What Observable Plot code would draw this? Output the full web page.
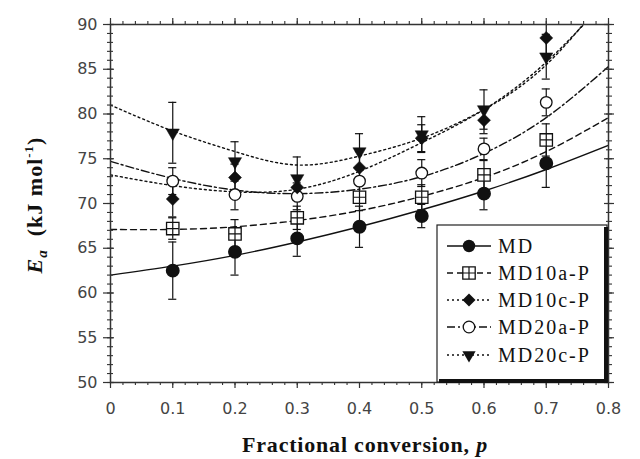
<!DOCTYPE html>
<html><head><meta charset="utf-8">
<script src="https://cdn.jsdelivr.net/npm/d3@7"></script>
<script src="https://cdn.jsdelivr.net/npm/@observablehq/plot@0.6"></script>
<style>body{margin:0;background:#fff}#wrap{position:relative;width:640px;height:459px;overflow:hidden}</style>
</head><body><div id="wrap"></div>
<script>
// ---- data ----
const conversion = [0.1, 0.2, 0.3, 0.4, 0.5, 0.6, 0.7];
const seriesNames = ["MD", "MD10a-P", "MD10c-P", "MD20a-P", "MD20c-P"];

const MD      = [62.5, 64.6, 66.1, 67.4, 68.6, 71.1, 74.5];
const MD10aP  = [67.2, 66.6, 68.4, 70.7, 70.7, 73.2, 77.1];
const MD10cP  = [70.5, 72.9, 71.8, 74.0, 77.3, 79.3, 88.5];
const MD20aP  = [72.5, 71.0, 70.8, 72.5, 73.4, 76.1, 81.3];
const MD20cP  = [77.9, 74.7, 72.8, 75.8, 77.7, 80.5, 86.4];

const MD_err     = [3.2, 2.6, 2.0, 2.3, 1.3, 1.8, 2.7];
const MD10aP_err = [1.2, 1.6, 1.3, 1.5, 1.4, 1.6, 1.8];
const MD10cP_err = [2.0, 1.5, 1.3, 1.8, 1.5, 1.5, 1.8];
const MD20aP_err = [1.5, 1.7, 1.5, 1.3, 1.5, 1.2, 1.5];
const MD20cP_err = [3.4, 2.2, 2.4, 2.0, 2.0, 2.2, 2.5];

// fitted curves, read at p = 0 ... 0.8
const fitP       = [0, 0.1, 0.2, 0.3, 0.4, 0.5, 0.6, 0.7, 0.8];
const MD_fit     = [62.0, 63.0, 64.2, 65.7, 67.4, 69.3, 71.4, 73.8, 76.5];
const MD10aP_fit = [67.1, 67.1, 67.4, 68.1, 69.2, 70.8, 72.9, 75.8, 79.6];
const MD10cP_fit = [73.2, 72.0, 71.3, 71.6, 73.6, 76.8, 80.5, 85.8, 93.0];
const MD20aP_fit = [74.7, 72.8, 71.5, 71.1, 71.6, 73.0, 75.6, 79.6, 85.3];
const MD20cP_fit = [81.0, 78.1, 75.8, 74.3, 75.3, 77.3, 80.5, 85.5, 93.5];

const xTicks = [0, 0.1, 0.2, 0.3, 0.4, 0.5, 0.6, 0.7, 0.8];
const xTickLabels = ["0", "0.1", "0.2", "0.3", "0.4", "0.5", "0.6", "0.7", "0.8"];
const yTicks = [50, 55, 60, 65, 70, 75, 80, 85, 90];

// ---- build tables ----
const values = [MD, MD10aP, MD10cP, MD20aP, MD20cP];
const errs = [MD_err, MD10aP_err, MD10cP_err, MD20aP_err, MD20cP_err];
const fitsArr = [MD_fit, MD10aP_fit, MD10cP_fit, MD20aP_fit, MD20cP_fit];
const dashes = [null, "6,4", "2,3", "8,3,2,3", "2,3"];

const points = [];
seriesNames.forEach((s, i) => values[i].forEach((v, j) =>
  points.push({series: s, p: conversion[j], E: v, err: errs[i][j]})));
const fits = [];
seriesNames.forEach((s, i) => fitsArr[i].forEach((v, j) =>
  fits.push({series: s, p: fitP[j], E: v})));

const xMinor = d3.range(0, 0.8001, 0.02);
const yMinor = d3.range(50, 90.01, 1);
const capW = 0.0065;
const ink = "#111";
const noText = () => "";

const lineMarks = seriesNames.map((s, i) => Plot.line(fits.filter(d => d.series === s), {
  x: "p", y: "E", curve: "natural", stroke: ink, strokeWidth: 1.4,
  strokeDasharray: dashes[i], clip: true
}));

const sel = s => points.filter(d => d.series === s);

const plot = Plot.plot({
  width: 640, height: 459,
  marginLeft: 110, marginRight: 32, marginTop: 24, marginBottom: 77,
  x: {domain: [0, 0.8]},
  y: {domain: [50, 90]},
  style: {fontFamily: "'DejaVu Sans', sans-serif", fontSize: "16px", color: "#333", background: "#fff"},
  marks: [
    ...lineMarks,
    Plot.ruleX(points, {x: "p", y1: d => d.E - d.err, y2: d => d.E + d.err, stroke: ink, strokeWidth: 1.2, clip: true}),
    Plot.ruleY(points, {y: d => d.E + d.err, x1: d => d.p - capW, x2: d => d.p + capW, stroke: ink, strokeWidth: 1.2, clip: true}),
    Plot.ruleY(points, {y: d => d.E - d.err, x1: d => d.p - capW, x2: d => d.p + capW, stroke: ink, strokeWidth: 1.2, clip: true}),
    // markers
    Plot.dot(sel("MD20a-P"), {x: "p", y: "E", symbol: "circle", r: 5.8, fill: "#fff", stroke: ink, strokeWidth: 1.3}),
    Plot.dot(sel("MD10a-P"), {x: "p", y: "E", symbol: "square", r: 7, fill: "#fff", stroke: ink, strokeWidth: 1.3}),
    Plot.dot(sel("MD10a-P"), {x: "p", y: "E", symbol: "plus", r: 4.0, stroke: ink, strokeWidth: 1.2}),
    Plot.dot(sel("MD10c-P"), {x: "p", y: "E", symbol: "square", r: 5.2, rotate: 45, fill: ink, stroke: ink, strokeWidth: 0.5}),
    Plot.dot(sel("MD20c-P"), {x: "p", y: "E", symbol: "triangle", r: 4.9, rotate: 180, fill: ink, stroke: ink, strokeWidth: 0.5}),
    Plot.dot(sel("MD"), {x: "p", y: "E", symbol: "circle", r: 6.2, fill: ink, stroke: ink}),
    // frame and axes
    Plot.frame({stroke: "#333", strokeWidth: 1.5}),
    Plot.axisX({ticks: xTicks, tickSize: 6, tickPadding: 14, tickFormat: d => xTickLabels[xTicks.indexOf(d)], label: null, strokeWidth: 1.2, fill: "#444"}),
    Plot.axisX({ticks: xMinor, tickSize: 3, tickFormat: noText, label: null, strokeWidth: 1.1}),
    Plot.axisX({anchor: "top", ticks: xTicks, tickSize: 7, tickFormat: noText, label: null, strokeWidth: 1.2}),
    Plot.axisX({anchor: "top", ticks: xMinor, tickSize: 4, tickFormat: noText, label: null, strokeWidth: 1.1}),
    Plot.axisY({ticks: yTicks, tickSize: 7, tickPadding: 6, label: null, strokeWidth: 1.2, fill: "#444"}),
    Plot.axisY({ticks: yTicks, tickSize: -4, tickFormat: noText, label: null, strokeWidth: 1.2}),
    Plot.axisY({ticks: yMinor, tickSize: 3, tickFormat: noText, label: null, strokeWidth: 1.1}),
    Plot.axisY({ticks: yMinor, tickSize: -3, tickFormat: noText, label: null, strokeWidth: 1.1}),
    Plot.axisY({anchor: "right", ticks: yTicks, tickSize: 5, tickFormat: noText, label: null, strokeWidth: 1.2}),
    Plot.axisY({anchor: "right", ticks: yTicks, tickSize: -5, tickFormat: noText, label: null, strokeWidth: 1.2}),
    Plot.axisY({anchor: "right", ticks: yMinor, tickSize: 3, tickFormat: noText, label: null, strokeWidth: 1.1}),
    Plot.axisY({anchor: "right", ticks: yMinor, tickSize: -3, tickFormat: noText, label: null, strokeWidth: 1.1})
  ]
});
document.getElementById("wrap").appendChild(plot);

// ---- titles ----
const svg = d3.select(plot);
const serif = "'Liberation Serif', 'Times New Roman', serif";
const xt = svg.append("text").attr("x", 365).attr("y", 452).attr("text-anchor", "middle")
  .style("font-family", serif).style("font-size", "22px").style("font-weight", "bold")
  .style("letter-spacing", "0.8px").attr("fill", "#111");
xt.append("tspan").text("Fractional conversion, ");
xt.append("tspan").style("font-style", "italic").text("p");

const yt = svg.append("text").attr("transform", "translate(42,205) rotate(-90)").attr("text-anchor", "middle")
  .style("font-family", serif).style("font-size", "22px").style("font-weight", "bold")
  .style("letter-spacing", "1px").attr("fill", "#111");
yt.append("tspan").style("font-style", "italic").text("E");
yt.append("tspan").style("font-style", "italic").style("font-size", "15px").attr("dy", 5).text("a");
yt.append("tspan").attr("dy", -5).text("\u00a0\u00a0(kJ mol");
yt.append("tspan").style("font-size", "13px").attr("dy", -9).text("-1");
yt.append("tspan").attr("dy", 9).text(")");

// ---- legend ----
const lg = svg.append("g");
const bx = 437, by = 225, bw = 170, bh = 157;
lg.append("rect").attr("x", bx).attr("y", by).attr("width", bw).attr("height", bh)
  .attr("fill", "#fff").attr("stroke", "#222").attr("stroke-width", 1.2);
lg.append("line").attr("x1", bx + bw - 1).attr("x2", bx + bw - 1).attr("y1", by + 2).attr("y2", by + bh)
  .attr("stroke", "#111").attr("stroke-width", 4);
lg.append("line").attr("x1", bx + 2).attr("x2", bx + bw + 1).attr("y1", by + bh - 1).attr("y2", by + bh - 1)
  .attr("stroke", "#111").attr("stroke-width", 4);
const rowY = [246, 273, 300, 327, 355];
const sym = (type, r) => d3.symbol(type, Math.PI * r * r)();
seriesNames.forEach((s, i) => {
  const y = rowY[i];
  const g = lg.append("g");
  g.append("line").attr("x1", 447).attr("x2", 491).attr("y1", y).attr("y2", y)
    .attr("stroke", ink).attr("stroke-width", 1.4).attr("stroke-dasharray", dashes[i]);
  const m = g.append("g").attr("transform", `translate(469,${y})`);
  if (i === 0) m.append("path").attr("d", sym(d3.symbolCircle, 6.2)).attr("fill", ink);
  if (i === 1) {
    m.append("path").attr("d", sym(d3.symbolSquare, 7)).attr("fill", "#fff").attr("stroke", ink).attr("stroke-width", 1.3);
    m.append("path").attr("d", sym(d3.symbolPlus, 4.0)).attr("fill", "none").attr("stroke", ink).attr("stroke-width", 1.2);
  }
  if (i === 2) m.append("path").attr("d", sym(d3.symbolSquare, 5.2)).attr("transform", "rotate(45)").attr("fill", ink);
  if (i === 3) m.append("path").attr("d", sym(d3.symbolCircle, 5.8)).attr("fill", "#fff").attr("stroke", ink).attr("stroke-width", 1.3);
  if (i === 4) m.append("path").attr("d", sym(d3.symbolTriangle, 4.9)).attr("transform", "rotate(180)").attr("fill", ink);
  g.append("text").attr("x", 498).attr("y", y + 7).attr("text-anchor", "start")
    .style("font-family", serif).style("font-size", "20px")
    .style("letter-spacing", "2px").attr("fill", "#111").text(s);
});
</script>
</body></html>
